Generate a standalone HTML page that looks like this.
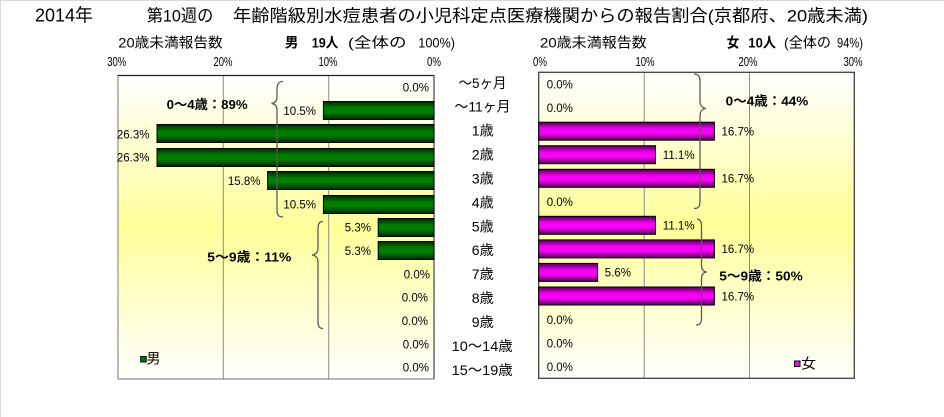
<!DOCTYPE html>
<html><head><meta charset="utf-8">
<style>
html,body{margin:0;padding:0;background:#fff;}
svg{display:block;}
text{font-family:"Liberation Sans","Noto Sans CJK JP",sans-serif;fill:#000;}
</style></head>
<body>
<svg width="944" height="417" viewBox="0 0 944 417" xmlns="http://www.w3.org/2000/svg">
<defs>
<linearGradient id="bg" x1="0" y1="0" x2="0" y2="1">
<stop offset="0" stop-color="#FFFFFF"/>
<stop offset="0.5" stop-color="#FFFF99"/>
<stop offset="1" stop-color="#FFFFFF"/>
</linearGradient>
<linearGradient id="gr" x1="0" y1="0" x2="0" y2="1">
<stop offset="0" stop-color="#002800"/>
<stop offset="0.35" stop-color="#007A00"/>
<stop offset="0.6" stop-color="#008000"/>
<stop offset="1" stop-color="#002800"/>
</linearGradient>
<linearGradient id="mg" x1="0" y1="0" x2="0" y2="1">
<stop offset="0" stop-color="#500050"/>
<stop offset="0.35" stop-color="#F000F0"/>
<stop offset="0.6" stop-color="#FF00FF"/>
<stop offset="1" stop-color="#500050"/>
</linearGradient>
</defs>

<!-- outer frame -->
<line x1="0" y1="0.5" x2="944" y2="0.5" stroke="#d9d9d9" stroke-width="1"/>
<line x1="0.5" y1="0" x2="0.5" y2="417" stroke="#d9d9d9" stroke-width="1"/>

<!-- title -->
<text x="35" y="21.5" font-size="18" textLength="58" lengthAdjust="spacingAndGlyphs">2014年</text>
<text x="146.7" y="21.5" font-size="17" textLength="66.6" lengthAdjust="spacingAndGlyphs">第10週の</text>
<text x="233" y="21.5" font-size="17" textLength="635" lengthAdjust="spacingAndGlyphs">年齢階級別水痘患者の小児科定点医療機関からの報告割合(京都府、20歳未満)</text>

<!-- left header -->
<text x="118.3" y="47.5" font-size="14" textLength="104.4" lengthAdjust="spacingAndGlyphs">20歳未満報告数</text>
<text x="285" y="47.5" font-size="14" font-weight="bold" textLength="13.3" lengthAdjust="spacingAndGlyphs">男</text>
<text x="311.7" y="47.5" font-size="14" font-weight="bold" textLength="26.6" lengthAdjust="spacingAndGlyphs">19人</text>
<text x="348" y="47.5" font-size="14" textLength="58.5" lengthAdjust="spacingAndGlyphs">(全体の</text>
<text x="418.3" y="47.5" font-size="14" textLength="36.7" lengthAdjust="spacingAndGlyphs">100%)</text>

<!-- right header -->
<text x="540" y="47.5" font-size="14" textLength="106.7" lengthAdjust="spacingAndGlyphs">20歳未満報告数</text>
<text x="726.7" y="47.5" font-size="14" font-weight="bold" textLength="12.5" lengthAdjust="spacingAndGlyphs">女</text>
<text x="748.3" y="47.5" font-size="14" font-weight="bold" textLength="27.7" lengthAdjust="spacingAndGlyphs">10人</text>
<text x="784" y="47.5" font-size="14" textLength="47" lengthAdjust="spacingAndGlyphs">(全体の</text>
<text x="837" y="47.5" font-size="14" textLength="26" lengthAdjust="spacingAndGlyphs">94%)</text>

<!-- tick labels -->
<g font-size="13" text-anchor="middle">
<text x="116.7" y="66" textLength="19" lengthAdjust="spacingAndGlyphs">30%</text>
<text x="223" y="66" textLength="19" lengthAdjust="spacingAndGlyphs">20%</text>
<text x="328" y="66" textLength="19" lengthAdjust="spacingAndGlyphs">10%</text>
<text x="434" y="66" textLength="14" lengthAdjust="spacingAndGlyphs">0%</text>
<text x="540" y="66" textLength="14" lengthAdjust="spacingAndGlyphs">0%</text>
<text x="645" y="66" textLength="19" lengthAdjust="spacingAndGlyphs">10%</text>
<text x="748" y="66" textLength="19" lengthAdjust="spacingAndGlyphs">20%</text>
<text x="853" y="66" textLength="19" lengthAdjust="spacingAndGlyphs">30%</text>
</g>

<!-- left plot -->
<rect x="118" y="75.5" width="316" height="303.5" fill="url(#bg)"/>
<line x1="223.3" y1="75.5" x2="223.3" y2="379" stroke="#8c8c8c" stroke-width="1"/>
<line x1="328.7" y1="75.5" x2="328.7" y2="379" stroke="#8c8c8c" stroke-width="1"/>
<line x1="118" y1="75.5" x2="118" y2="379" stroke="#8c8c8c" stroke-width="1.2"/>
<line x1="118" y1="379" x2="434" y2="379" stroke="#8c8c8c" stroke-width="1.2"/>
<line x1="117.5" y1="75.5" x2="434.5" y2="75.5" stroke="#222" stroke-width="1.2"/>
<line x1="434" y1="75.5" x2="434" y2="379" stroke="#444" stroke-width="1.2"/>

<g stroke="#000" stroke-width="1">
<rect x="323.4" y="101.5" width="110.6" height="18" fill="url(#gr)"/>
<rect x="157" y="124.5" width="277" height="18" fill="url(#gr)"/>
<rect x="157" y="148.5" width="277" height="18" fill="url(#gr)"/>
<rect x="267.6" y="171.5" width="166.4" height="18" fill="url(#gr)"/>
<rect x="323.4" y="195.5" width="110.6" height="18" fill="url(#gr)"/>
<rect x="378.2" y="218.5" width="55.8" height="18" fill="url(#gr)"/>
<rect x="378.2" y="241.5" width="55.8" height="18" fill="url(#gr)"/>
</g>

<g font-size="11.5" text-anchor="end">
<text x="429" y="91.7">0.0%</text>
<text x="316" y="115">10.5%</text>
<text x="149.5" y="138.3">26.3%</text>
<text x="149.5" y="161.7">26.3%</text>
<text x="260.5" y="185">15.8%</text>
<text x="316" y="208.3">10.5%</text>
<text x="371" y="231.7">5.3%</text>
<text x="371" y="255">5.3%</text>
<text x="430" y="278.3">0.0%</text>
<text x="428" y="301.7">0.0%</text>
<text x="428" y="325">0.0%</text>
<text x="429" y="348.3">0.0%</text>
<text x="429" y="371.7">0.0%</text>
</g>

<!-- right plot -->
<rect x="538.7" y="72.3" width="315.6" height="306" fill="url(#bg)"/>
<line x1="644.2" y1="72.3" x2="644.2" y2="378.3" stroke="#8c8c8c" stroke-width="1"/>
<line x1="749.5" y1="72.3" x2="749.5" y2="378.3" stroke="#8c8c8c" stroke-width="1"/>
<rect x="538.7" y="72.3" width="315.6" height="306" fill="none" stroke="#404040" stroke-width="1.3"/>

<g stroke="#000" stroke-width="1">
<rect x="538.7" y="122.2" width="175.7" height="18" fill="url(#mg)"/>
<rect x="538.7" y="145.7" width="116.8" height="18" fill="url(#mg)"/>
<rect x="538.7" y="169.3" width="175.7" height="18" fill="url(#mg)"/>
<rect x="538.7" y="216.3" width="116.8" height="18" fill="url(#mg)"/>
<rect x="538.7" y="239.9" width="175.7" height="18" fill="url(#mg)"/>
<rect x="538.7" y="263.4" width="58.9" height="18" fill="url(#mg)"/>
<rect x="538.7" y="287" width="175.7" height="18" fill="url(#mg)"/>
</g>

<g font-size="11.5">
<text x="546.7" y="88.4">0.0%</text>
<text x="546.7" y="111.9">0.0%</text>
<text x="721.5" y="135.5">16.7%</text>
<text x="662.8" y="159">11.1%</text>
<text x="721.5" y="182.6">16.7%</text>
<text x="546.7" y="206.1">0.0%</text>
<text x="662.8" y="229.6">11.1%</text>
<text x="721.5" y="253.2">16.7%</text>
<text x="604.8" y="276.7">5.6%</text>
<text x="721.5" y="300.3">16.7%</text>
<text x="546.7" y="323.8">0.0%</text>
<text x="546.7" y="347.3">0.0%</text>
<text x="546.7" y="370.9">0.0%</text>
</g>

<!-- category labels -->
<g font-size="14" text-anchor="middle">
<text x="482.5" y="87.8" textLength="48" lengthAdjust="spacingAndGlyphs">～5ヶ月</text>
<text x="482.5" y="111.7" textLength="56" lengthAdjust="spacingAndGlyphs">～11ヶ月</text>
<text x="482.8" y="135.6" textLength="22" lengthAdjust="spacingAndGlyphs">1歳</text>
<text x="482.8" y="159.6" textLength="22" lengthAdjust="spacingAndGlyphs">2歳</text>
<text x="482.8" y="183.5" textLength="22" lengthAdjust="spacingAndGlyphs">3歳</text>
<text x="482.8" y="207.4" textLength="22" lengthAdjust="spacingAndGlyphs">4歳</text>
<text x="482.8" y="231.3" textLength="22" lengthAdjust="spacingAndGlyphs">5歳</text>
<text x="482.8" y="255.2" textLength="22" lengthAdjust="spacingAndGlyphs">6歳</text>
<text x="482.8" y="279.2" textLength="22" lengthAdjust="spacingAndGlyphs">7歳</text>
<text x="482.8" y="303.1" textLength="22" lengthAdjust="spacingAndGlyphs">8歳</text>
<text x="482.8" y="327" textLength="22" lengthAdjust="spacingAndGlyphs">9歳</text>
<text x="482.2" y="350.9" textLength="61" lengthAdjust="spacingAndGlyphs">10～14歳</text>
<text x="482.2" y="374.8" textLength="61" lengthAdjust="spacingAndGlyphs">15～19歳</text>
</g>

<!-- braces -->
<g fill="none" stroke="#5a5a5a" stroke-width="1.3">
<path d="M 283 81.5 C 278.5 81.5 277 84 277 90 L 277 97 C 277 101 275 103 271.5 103.5 C 275 104 277 106 277 110 L 277 210 C 277 215 278.5 217 283 217"/>
<path d="M 323 221.5 C 319 221.5 318 224 318 229 L 318 248 C 318 252 316 254.5 312 255 C 316 255.5 318 258 318 262 L 318 321 C 318 326 319 328.5 323 328.5"/>
<path d="M 694 74 C 699 74 700 77 700 82 L 700 101 C 700 105 702 108 706 108.5 C 702 109 700 112 700 116 L 700 201 C 700 206 699 208.5 694 208.5"/>
<path d="M 697 219 C 700.5 219 701.5 222 701.5 227 L 701.5 265 C 701.5 269 703 271.5 706.5 272 C 703 272.5 701.5 275 701.5 279 L 701.5 318 C 701.5 323 700 325 696 325"/>
</g>

<!-- group annotations -->
<g font-size="13" font-weight="bold">
<text x="166.7" y="109" textLength="81" lengthAdjust="spacingAndGlyphs">0～4歳：89%</text>
<text x="207.3" y="261.3" textLength="84" lengthAdjust="spacingAndGlyphs">5～9歳：11%</text>
<text x="725.7" y="105.5" textLength="82.6" lengthAdjust="spacingAndGlyphs">0～4歳：44%</text>
<text x="719.3" y="280.5" textLength="83.4" lengthAdjust="spacingAndGlyphs">5～9歳：50%</text>
</g>

<!-- legends -->
<rect x="140.7" y="356.5" width="5.5" height="5.5" fill="#008000" stroke="#000" stroke-width="1"/>
<text x="146.5" y="363.5" font-size="14" textLength="14" lengthAdjust="spacingAndGlyphs">男</text>
<rect x="794.5" y="361" width="5.5" height="5.5" fill="#FF00FF" stroke="#000" stroke-width="1"/>
<text x="801" y="368.5" font-size="14" textLength="15" lengthAdjust="spacingAndGlyphs">女</text>
</svg>
</body></html>
